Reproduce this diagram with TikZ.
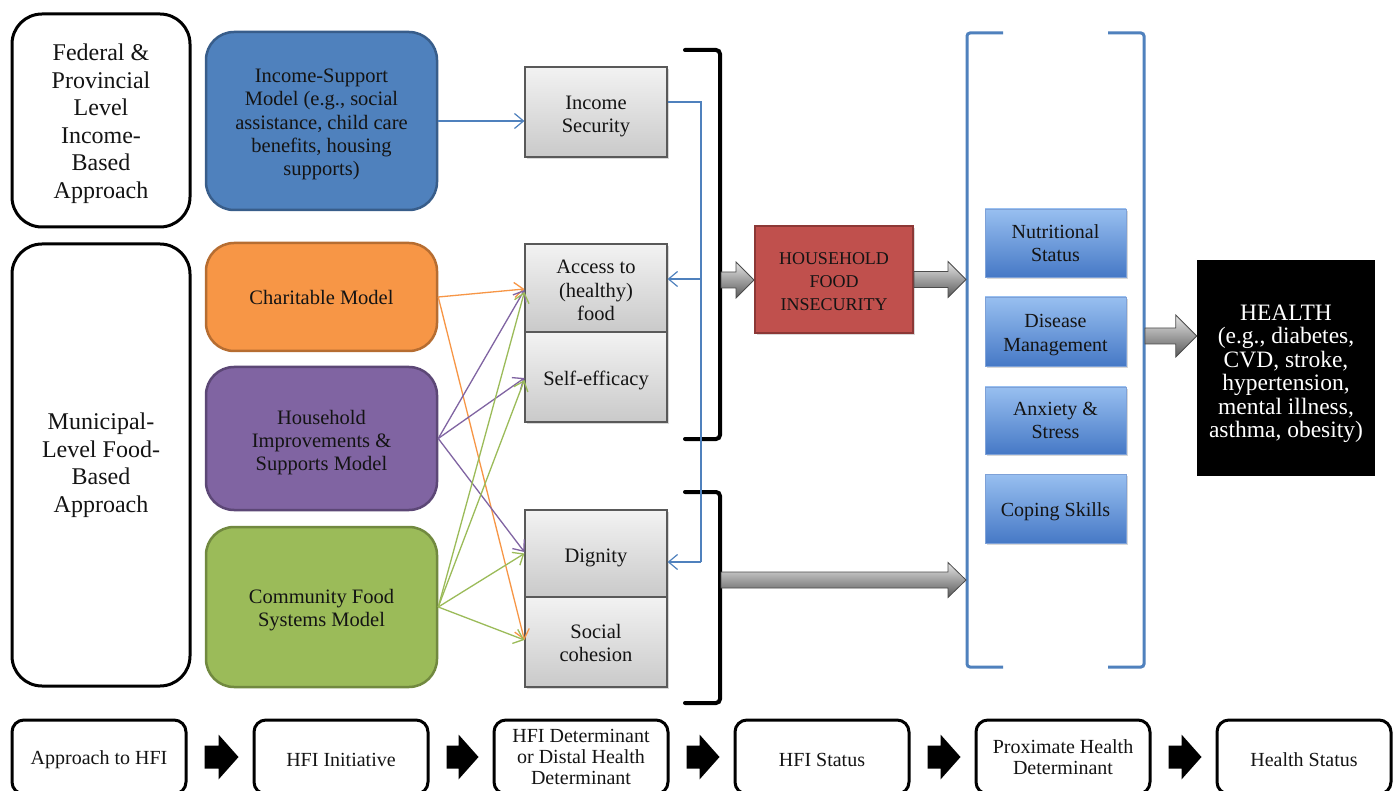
\documentclass[tikz,border=0pt]{standalone}
\usepackage{fontspec}
\setmainfont{Liberation Serif}
\usetikzlibrary{arrows.meta,calc,shadows}
\definecolor{cblue}{HTML}{4F81BD}
\definecolor{cblueD}{HTML}{385D8A}
\definecolor{corange}{HTML}{F79646}
\definecolor{corangeD}{HTML}{B66D31}
\definecolor{cpurple}{HTML}{8064A2}
\definecolor{cpurpleD}{HTML}{5C4776}
\definecolor{cgreen}{HTML}{9BBB59}
\definecolor{cgreenD}{HTML}{71893F}
\definecolor{cred}{HTML}{C0504D}
\definecolor{credD}{HTML}{8C3836}
\definecolor{bltop}{HTML}{98BFF0}
\definecolor{blbot}{HTML}{4679C6}
\definecolor{txt}{HTML}{141414}
\newcommand{\toppad}[1]{\rule{0pt}{#1}}
\newcommand{\blockarr}[6]{%
  \path[#1] let \p1=#2, \p2=#3 in
    (\x1,\y1+#6) -- (\x2-#4,\y1+#6) -- (\x2-#4,\y1+#5) -- (\x2,\y1)
    -- (\x2-#4,\y1-#5) -- (\x2-#4,\y1-#6) -- (\x1,\y1-#6) -- cycle;}
\begin{document}
\begin{tikzpicture}[x=1pt,y=-1pt,
  lower/.style={execute at begin node={\rule{0pt}{#1}}},
  bigbox/.style={draw=black, line width=3pt, rounded corners=30pt, fill=white,
    align=center, inner sep=0pt, text=txt, font=\fontsize{24}{27.5}\selectfont},
  model/.style={line width=2.5pt, rounded corners=28pt, align=center, inner sep=0pt,
    text=txt, minimum width=231pt, font=\fontsize{20.5}{23.2}\selectfont},
  graybox/.style={draw=black!65, line width=1.2pt, top color=gray!10, bottom color=gray!42,
    align=center, inner sep=0pt, minimum width=142pt, text=txt,
    font=\fontsize{20.5}{23.2}\selectfont,
    drop shadow={shadow xshift=1.5pt, shadow yshift=-2pt, opacity=0.3}},
  bluebox/.style={draw=blbot!70, line width=0.6pt, top color=bltop, bottom color=blbot,
    align=center, inner sep=0pt, minimum width=141pt, text=txt,
    font=\fontsize{20}{23.5}\selectfont,
    drop shadow={shadow xshift=1.5pt, shadow yshift=-2pt, opacity=0.3}},
  stagebox/.style={draw=black, line width=3pt, rounded corners=12pt, fill=white,
    align=center, inner sep=0pt, minimum width=174pt, minimum height=74pt, text=txt,
    font=\fontsize{20}{21}\selectfont, lower=1.0em},
  conn/.style={line width=1.3pt, -{Straight Barb[length=9pt,width=15pt]}},
  grayarrow/.style={top color=gray!20, bottom color=black!65, draw=black!70, line width=0.8pt},
  blackarrow/.style={fill=black},
  brk/.style={line width=4pt, rounded corners=4pt, line cap=round},
  bbrk/.style={draw=cblue, line width=3pt, rounded corners=3pt},
]
\clip (0,0) rectangle (1395,791);
\fill[white] (0,0) rectangle (1395,791);

% left approach boxes
\node[bigbox, minimum width=178pt, minimum height=213pt] (fed) at (101,120.5)
  {\toppad{0.96em}Federal \&\\Provincial\\Level\\Income-\\Based\\Approach};
\node[bigbox, minimum width=178pt, minimum height=442pt] (muni) at (101,465)
  {Municipal-\\Level Food-\\Based\\Approach};

% initiative models
\node[model, fill=cblue, draw=cblueD, minimum height=178pt] (isup) at (321.5,121)
  {\toppad{1.0em}Income-Support\\Model (e.g., social\\assistance, child care\\benefits, housing\\supports)};
\node[model, fill=corange, draw=corangeD, minimum height=108pt] (charit) at (321.5,297)
  {Charitable Model};
\node[model, fill=cpurple, draw=cpurpleD, minimum height=143pt] (house) at (321.5,438.5)
  {\toppad{1.1em}Household\\Improvements \&\\Supports Model};
\node[model, fill=cgreen, draw=cgreenD, minimum height=160pt] (comm) at (321.5,607)
  {\toppad{1.0em}Community Food\\Systems Model};

% determinants
\node[graybox, minimum height=90pt] (incsec) at (596,112) {\toppad{1.1em}Income\\Security};
\node[graybox, minimum height=88pt] (access) at (596,288) {\toppad{0.9em}Access to\\(healthy)\\food};
\node[graybox, minimum height=90pt, lower=1.05em] (selfeff) at (596,377) {Self-efficacy};
\node[graybox, minimum height=87pt, lower=1.05em] (dignity) at (596,553.5) {Dignity};
\node[graybox, minimum height=90pt] (social) at (596,642) {\toppad{0.8em}Social\\cohesion};

% HFI status
\node[draw=credD, line width=2pt, fill=cred, minimum width=158pt, minimum height=107pt,
  inner sep=0pt, align=center, text=txt, font=\fontsize{18}{23}\selectfont,
  drop shadow={shadow xshift=1.5pt, shadow yshift=-2pt, opacity=0.3}] (hfi) at (834,279.5)
  {\toppad{0.95em}HOUSEHOLD\\FOOD\\INSECURITY};

% proximate determinants
\node[bluebox, minimum height=68pt] (nutr) at (1055.5,243) {Nutritional\\Status};
\node[bluebox, minimum height=69pt] (dis) at (1055.5,331.5) {\toppad{1.0em}Disease\\Management};
\node[bluebox, minimum height=67pt] (anx) at (1055.5,420.5) {Anxiety \&\\Stress};
\node[bluebox, minimum height=69pt, lower=1.05em] (cop) at (1055.5,508.5) {Coping Skills};

% health
\node[fill=black, minimum width=178pt, minimum height=216pt, inner sep=0pt, align=center,
  text=white, font=\fontsize{23.5}{23.5}\selectfont] (health) at (1286,368)
  {\toppad{1.15em}HEALTH\\(e.g., diabetes,\\CVD, stroke,\\hypertension,\\mental illness,\\asthma, obesity)};

% brackets
\draw[brk] (685,50) -- (720,50) -- (720,439) -- (685,439);
\draw[brk] (685,492) -- (720,492) -- (720,703) -- (685,703);
\draw[bbrk] (1003,33) -- (967,33) -- (967,667) -- (1003,667);
\draw[bbrk] (1108,33) -- (1144,33) -- (1144,667) -- (1108,667);
\coordinate (brU) at (721,280);
\coordinate (brL) at (721,580);
\coordinate (bbL) at (966,280);
\coordinate (bbL2) at (966,580);
\coordinate (bbR) at (1145,336);

% blue income security connector
\coordinate (bt) at (701,102);
\coordinate (bm) at (701,279);
\coordinate (bb) at (701,562);
\draw[conn, draw=cblue, line width=1.2pt] (isup.east) -- (isup.east -| incsec.west);
\draw[cblue, line width=1.2pt] (incsec.east |- bt) -- (bt) -- (bb);
\draw[conn, draw=cblue, line width=1.2pt] (bm) -- (access.east |- bm);
\draw[conn, draw=cblue, line width=1.2pt] (bb) -- (dignity.east |- bb);

% coloured model connectors
\draw[conn, draw=corange] (charit.east) -- ([yshift=-1pt]access.west);
\draw[conn, draw=corange] (charit.east) -- ([yshift=2pt]social.west);
\draw[conn, draw=cpurple] (house.east) -- ([yshift=-2pt]access.west);
\draw[conn, draw=cpurple] (house.east) -- ([yshift=-1pt]selfeff.west);
\draw[conn, draw=cpurple] (house.east) -- ([yshift=1.5pt]dignity.west);
\draw[conn, draw=cgreen] (comm.east) -- ([yshift=-4pt]access.west);
\draw[conn, draw=cgreen] (comm.east) -- ([yshift=-3pt]selfeff.west);
\draw[conn, draw=cgreen] (comm.east) -- ([yshift=0pt]dignity.west);
\draw[conn, draw=cgreen] (comm.east) -- ([yshift=2pt]social.west);

% gray block arrows
\blockarr{grayarrow}{(brU)}{(hfi.west)}{18pt}{18pt}{8pt}
\blockarr{grayarrow}{(hfi.east)}{(bbL)}{18pt}{18pt}{8pt}
\blockarr{grayarrow}{(brL)}{(bbL2)}{18pt}{17.5pt}{8pt}
\blockarr{grayarrow}{(bbR)}{(health.west |- bbR)}{21pt}{21pt}{8pt}

% bottom stage row
\node[stagebox] (s1) at (99,757) {Approach to HFI};
\node[stagebox] (s2) at (341,757) {HFI Initiative};
\node[stagebox] (s3) at (581,757) {HFI Determinant\\or Distal Health\\Determinant};
\node[stagebox] (s4) at (822,757) {HFI Status};
\node[stagebox] (s5) at (1063,757) {Proximate Health\\Determinant};
\node[stagebox] (s6) at (1304,757) {Health Status};
\foreach \a/\b in {s1/s2,s2/s3,s3/s4,s4/s5,s5/s6}{
  \blockarr{blackarrow}{($(\a.east)+(17,0)$)}{($(\b.west)+(-14,0)$)}{20pt}{22.5pt}{11.5pt}
}
\end{tikzpicture}
\end{document}
